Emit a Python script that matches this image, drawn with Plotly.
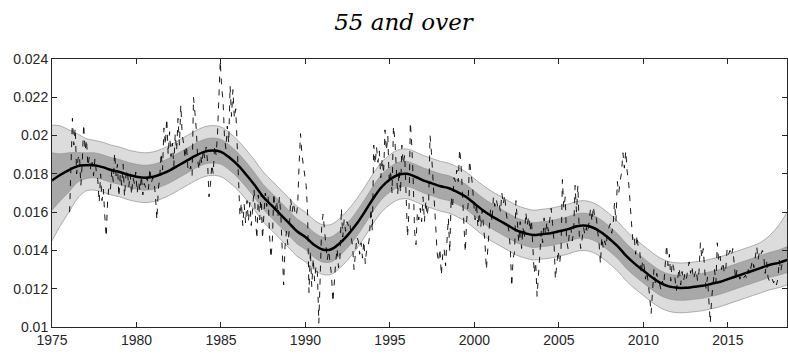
import plotly.graph_objects as go

# ---------------- data (values in units of 1e-3) ----------------
start_year = 1976
raw_monthly = [
    16.0, 18.4, 20.9, 19.5, 20.4, 18.0, 18.8, 19.0, 17.4, 18.6, 20.6, 19.2,  # 1976
    19.8, 18.4, 18.9, 18.2, 18.6, 17.9, 18.8, 18.1, 17.7, 16.5, 18.0, 16.6,  # 1977
    17.2, 15.8, 14.7, 16.6, 17.4, 17.2, 18.2, 17.6, 19.1, 17.9, 18.5, 16.8,  # 1978
    18.0, 17.4, 18.5, 16.8, 17.9, 18.2, 17.3, 18.0, 16.9, 17.8, 17.5, 18.1,  # 1979
    17.0, 17.6, 17.1, 17.9, 16.9, 17.5, 17.3, 17.8, 17.2, 18.3, 17.5, 17.8,  # 1980
    17.6, 16.8, 15.6, 17.2, 17.8, 19.1, 18.2, 20.4, 19.5, 20.9, 19.0, 20.2,  # 1981
    18.9, 19.6, 18.4, 20.1, 19.2, 20.9, 19.5, 21.6, 20.0, 19.6, 18.8, 19.5,  # 1982
    18.3, 18.1, 18.4, 17.9, 22.0, 21.2, 20.3, 18.7, 18.2, 19.0, 18.5, 19.3,  # 1983
    18.8, 19.4, 18.6, 16.8, 17.4, 18.5, 18.0, 19.5, 19.0, 20.0, 22.3, 23.9,  # 1984
    22.5, 21.8, 19.9, 19.3, 20.5, 19.6, 22.6, 21.0, 22.4, 20.9, 21.4, 19.7,  # 1985
    17.6, 15.8, 16.5, 15.3, 16.4, 15.4, 16.6, 15.5, 16.5, 15.3, 16.2, 17.2,  # 1986
    15.8, 14.6, 16.9, 15.6, 17.0, 14.6, 15.9, 17.0, 16.3, 16.8, 14.8, 13.6,  # 1987
    14.5, 17.0, 16.1, 16.6, 15.8, 16.8, 15.9, 14.4, 12.2, 14.2, 15.0, 14.3,  # 1988
    15.1, 16.7, 16.0, 16.5, 16.0, 15.8, 16.4, 18.5, 20.1, 19.0, 18.4, 17.7,  # 1989
    17.4, 16.0, 11.8, 14.0, 12.1, 13.6, 12.4, 13.2, 12.8, 10.2, 12.6, 15.2,  # 1990
    15.9, 15.1, 14.1, 13.5, 14.0, 13.4, 12.7, 11.3, 12.5, 13.4, 14.1, 13.1,  # 1991
    13.6, 16.2, 14.7, 15.6, 15.0, 15.5, 15.3, 15.5, 14.7, 14.2, 13.0, 14.1,  # 1992
    14.7, 14.5, 13.8, 14.4, 13.6, 14.5, 13.3, 14.1, 14.2, 14.7, 16.2, 15.0,  # 1993
    19.5, 18.5, 19.4, 18.6, 19.2, 17.8, 18.8, 18.0, 20.3, 19.2, 20.0, 17.5,  # 1994
    18.2, 17.0, 20.5, 19.8, 17.9, 16.9, 18.2, 17.0, 19.5, 18.5, 19.0, 16.2,  # 1995
    14.7, 16.0, 20.7, 19.5, 17.8, 15.0, 14.3, 16.0, 15.6, 16.2, 15.5, 16.8,  # 1996
    15.5, 16.6, 15.8, 16.5, 20.0, 19.1, 18.0, 16.5, 15.3, 13.9, 13.4, 14.1,  # 1997
    12.7, 13.8, 14.1, 13.2, 14.5, 15.7, 13.9, 16.8, 16.2, 17.8, 17.6, 18.2,  # 1998
    17.6, 19.3, 18.5, 16.8, 15.4, 13.9, 15.6, 16.4, 18.7, 18.1, 17.5, 16.5,  # 1999
    15.6, 16.5, 15.2, 16.0, 15.2, 16.1, 15.4, 14.4, 13.0, 14.0, 15.5, 16.2,  # 2000
    15.5, 16.8, 16.3, 16.7, 16.3, 16.5, 16.0, 17.0, 16.4, 16.9, 16.0, 15.6,  # 2001
    15.0, 14.1, 12.1, 13.6, 13.9, 16.6, 15.5, 14.4, 15.5, 14.1, 15.2, 14.6,  # 2002
    16.0, 15.3, 15.8, 15.0, 15.6, 13.7, 12.8, 13.4, 11.6, 12.7, 14.0, 15.0,  # 2003
    14.4, 15.7, 14.8, 15.5, 15.0, 15.7, 16.2, 15.4, 14.5, 12.5, 13.5, 14.0,  # 2004
    13.3, 14.0, 17.7, 16.2, 16.8, 14.5, 14.1, 15.0, 15.2, 14.5, 15.0, 17.4,  # 2005
    16.0, 17.4, 14.8, 14.1, 14.6, 15.2, 14.8, 15.2, 14.9, 15.5, 16.2, 15.5,  # 2006
    16.3, 15.7, 15.8, 15.0, 14.4, 13.3, 14.7, 14.1, 14.5, 14.2, 14.9, 15.2,  # 2007
    15.4, 14.9, 15.3, 16.5, 15.5, 17.6, 17.0, 17.6, 18.1, 19.1, 18.3, 19.2,  # 2008
    18.1, 17.6, 16.2, 15.5, 14.5, 14.7, 13.8, 14.8, 14.0, 13.9, 12.8, 13.5,  # 2009
    13.2, 12.5, 12.9, 12.3, 11.6, 10.7, 11.8, 13.0, 12.3, 12.8, 12.4, 12.3,  # 2010
    11.9, 12.4, 12.2, 13.3, 14.3, 13.2, 13.8, 12.4, 13.4, 13.1, 12.4, 11.9,  # 2011
    12.6, 13.1, 12.2, 12.9, 12.4, 12.8, 12.5, 12.9, 13.4, 12.8, 13.2, 12.5,  # 2012
    12.7, 13.0, 12.4, 12.9, 14.4, 13.6, 14.1, 12.9, 12.0, 12.6, 11.6, 10.2,  # 2013
    11.5, 12.1, 13.0, 12.3, 14.4, 13.4, 13.7, 13.0, 13.4, 12.8, 13.0, 14.1,  # 2014
    13.8, 14.0, 13.7, 14.1, 13.2, 12.5, 13.0, 12.7, 12.5, 12.7, 12.5, 12.6,  # 2015
    12.7, 12.5, 13.0, 12.8, 13.2, 13.5, 13.1, 13.6, 14.2, 13.5, 14.0, 13.8,  # 2016
    14.0, 13.7, 12.8, 13.4, 12.6, 12.4, 12.6, 12.5, 12.3, 12.5, 12.2, 12.5,  # 2017
    13.5, 12.9, 13.3, 13.0,                                                  # 2018
]

# smoothed trend at half-year knots, 1975.0 ... 2018.5
trend_start = 1975.0
trend = [
    17.65, 17.95, 18.2, 18.4, 18.45, 18.45, 18.35, 18.2, 18.1, 17.95,
    17.85, 17.8, 17.85, 18.0, 18.2, 18.45, 18.7, 18.95, 19.15, 19.22,
    19.15, 18.85, 18.45, 17.95, 17.4, 16.8, 16.35, 15.9, 15.45, 15.0,
    14.7, 14.3, 14.05, 14.05, 14.35, 14.8, 15.35, 16.0, 16.7, 17.3,
    17.7, 17.95, 18.0, 17.85, 17.65, 17.5, 17.35, 17.25, 17.05, 16.8,
    16.45, 16.1, 15.8, 15.55, 15.3, 15.05, 14.9, 14.8, 14.85, 14.9,
    15.0, 15.1, 15.25, 15.3, 15.2, 14.95, 14.6, 14.2, 13.7, 13.3,
    12.95, 12.6, 12.3, 12.12, 12.05, 12.05, 12.1, 12.15, 12.25, 12.35,
    12.5, 12.65, 12.8, 12.95, 13.1, 13.25, 13.35, 13.5,
]
# band offsets from the trend (same knots)
outer_up = [2.9, 2.55, 2.1, 1.7, 1.4, 1.3] + [1.3] * 78 + [1.35, 1.55, 1.95, 2.5]
inner_up = [1.45, 1.1, 0.9, 0.72, 0.65] + [0.65] * 81 + [0.67, 0.7]
inner_lo = [1.55, 1.35, 1.15, 0.85, 0.7] + [0.65] * 83
outer_lo = [3.15, 2.65, 2.2, 1.7, 1.35] + [1.3] * 83

x_ticks = [1975, 1980, 1985, 1990, 1995, 2000, 2005, 2010, 2015]
y_ticks = [0.01, 0.012, 0.014, 0.016, 0.018, 0.02, 0.022, 0.024]
title_text = "55 and over"

# ---------------- derived ----------------
scale = 1e-3
t_raw = [start_year + (i + 0.5) / 12 for i in range(len(raw_monthly))]
y_raw = [v * scale for v in raw_monthly]
t_tr = [trend_start + 0.5 * i for i in range(len(trend))]
y_tr = [v * scale for v in trend]
o_up = [(a + b) * scale for a, b in zip(trend, outer_up)]
o_lo = [(a - b) * scale for a, b in zip(trend, outer_lo)]
i_up = [(a + b) * scale for a, b in zip(trend, inner_up)]
i_lo = [(a - b) * scale for a, b in zip(trend, inner_lo)]

LIGHT = "#dcdcdc"
DARK = "#a8a8a8"
EDGE = "#909090"

fig = go.Figure()
fig.add_trace(go.Scatter(x=t_tr, y=o_up, mode="lines",
                         line=dict(color=EDGE, width=0.7, shape="spline"),
                         hoverinfo="skip", showlegend=False))
fig.add_trace(go.Scatter(x=t_tr, y=o_lo, mode="lines", fill="tonexty", fillcolor=LIGHT,
                         line=dict(color=EDGE, width=0.7, shape="spline"),
                         hoverinfo="skip", showlegend=False))
fig.add_trace(go.Scatter(x=t_tr, y=i_up, mode="lines",
                         line=dict(color=EDGE, width=0.6, shape="spline"),
                         hoverinfo="skip", showlegend=False))
fig.add_trace(go.Scatter(x=t_tr, y=i_lo, mode="lines", fill="tonexty", fillcolor=DARK,
                         line=dict(color=EDGE, width=0.6, shape="spline"),
                         hoverinfo="skip", showlegend=False))
fig.add_trace(go.Scatter(x=t_raw, y=y_raw, mode="lines",
                         line=dict(color="black", width=0.9, dash="6px,7px"),
                         showlegend=False))
fig.add_trace(go.Scatter(x=t_tr, y=y_tr, mode="lines",
                         line=dict(color="black", width=2.5, shape="spline"),
                         showlegend=False))

axis_common = dict(showgrid=False, zeroline=False, showline=True, linecolor="#262626",
                   linewidth=1, mirror="ticks", ticks="inside", ticklen=5,
                   tickcolor="#262626", tickwidth=1,
                   tickfont=dict(family="Liberation Sans, Arial, sans-serif", size=14,
                                 color="#262626"))

fig.update_xaxes(range=[1975, 2018.5], tickvals=x_ticks, ticktext=[str(v) for v in x_ticks],
                 **axis_common)
fig.update_yaxes(range=[0.01, 0.024], tickvals=y_ticks,
                 ticktext=[("%g" % v) for v in y_ticks], **axis_common)

fig.update_layout(
    width=788, height=354,
    margin=dict(l=52, r=1, t=59, b=27, autoexpand=False),
    paper_bgcolor="white", plot_bgcolor="white",
    title=dict(text="<i>" + title_text + "</i>", x=0.512, xanchor="center",
               y=1 - 22 / 354, yanchor="middle", yref="container",
               font=dict(family="DejaVu Serif, serif", size=23, color="black")),
)

fig.write_html("out.html", config={"displayModeBar": False},
               post_script="document.body.style.margin='0';document.body.style.padding='0';")
